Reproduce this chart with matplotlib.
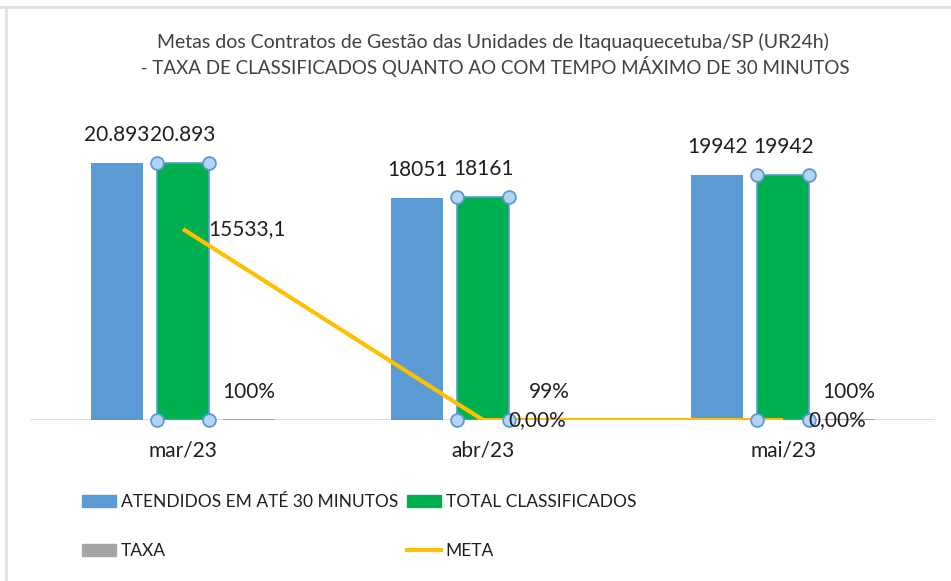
"""Metas dos Contratos de Gestão - Itaquaquecetuba/SP."""

import matplotlib

matplotlib.use("Agg")

import matplotlib.pyplot as plt
import numpy as np
from matplotlib.lines import Line2D
from matplotlib.patches import Patch

plt.rcParams["font.family"] = ["Lato", "DejaVu Sans"]

months = ["mar/23", "abr/23", "mai/23"]
atendidos = [20893, 18051, 19942]
total_classificados = [20893, 18161, 19942]
taxa = [1.00, 0.99, 1.00]
meta = [15533.1, 0.0, 0.0]

atendidos_labels = ["20.893", "18051", "19942"]
total_labels = ["20.893", "18161", "19942"]
taxa_labels = ["100%", "99%", "100%"]
meta_labels = ["15533,1", "0,00%", "0,00%"]

BLUE = "#5b9bd5"
GREEN = "#00b050"
GRAY = "#a5a5a5"
YELLOW = "#ffc000"
TEXT = "#1f1f1f"


def main() -> None:
    fig = plt.figure(figsize=(9.51, 5.81), dpi=100)
    ax = fig.add_axes([0.0315, 0.277, 0.952, 0.499])

    x = np.arange(len(months))
    width = 0.173
    step = 0.22

    b1 = ax.bar(x - step, atendidos, width, color=BLUE, zorder=2)
    b2 = ax.bar(x, total_classificados, width, color=GREEN, edgecolor=BLUE, linewidth=1.2, zorder=2)
    b3 = ax.bar(x + step, taxa, width, color=GRAY, edgecolor=GRAY, linewidth=1.5, zorder=2)
    ax.plot(x, meta, color=YELLOW, linewidth=3, zorder=3, solid_capstyle="butt")

    # selection handles on the green series
    for rect in b2:
        x0, x1 = rect.get_x(), rect.get_x() + rect.get_width()
        h = rect.get_height()
        ax.scatter([x0, x1, x0, x1], [0, 0, h, h], s=85, color="#b4d4f5",
                   edgecolor=BLUE, linewidth=1.3, zorder=5, clip_on=False)

    for rects, labels in ((b1, atendidos_labels), (b2, total_labels), (b3, taxa_labels)):
        for rect, lab in zip(rects, labels):
            ax.annotate(lab, (rect.get_x() + rect.get_width() / 2, rect.get_height()),
                        xytext=(0, 20), textcoords="offset points", ha="center",
                        va="center", fontsize=15, color=TEXT)
    for xi, val, lab in zip(x, meta, meta_labels):
        ax.annotate(lab, (xi, val), xytext=(18, 0), textcoords="offset points",
                    ha="left", va="center", fontsize=15, color=TEXT, zorder=6)

    ax.set_xlim(-0.51, 2.507)
    ax.set_ylim(0, 23576)
    ax.axhline(0, color="#d9d9d9", linewidth=1.2, zorder=1)
    for side in ("top", "right", "left", "bottom"):
        ax.spines[side].set_visible(False)
    ax.set_yticks([])
    ax.set_xticks(x)
    ax.set_xticklabels(months, fontsize=15, color=TEXT)
    ax.tick_params(axis="x", length=0, pad=15)

    fig.text(0.518, 0.928, "Metas dos Contratos de Gestão das Unidades de Itaquaquecetuba/SP (UR24h)",
             ha="center", va="center", fontsize=14, color="#404040")
    fig.text(0.518, 0.886, " - TAXA DE CLASSIFICADOS QUANTO AO COM TEMPO MÁXIMO DE 30 MINUTOS",
             ha="center", va="center", fontsize=13.5, color="#404040")

    handles = [
        Patch(color=BLUE, label="ATENDIDOS EM ATÉ 30 MINUTOS"),
        Patch(color=GRAY, label="TAXA"),
        Patch(color=GREEN, label="TOTAL CLASSIFICADOS"),
        Line2D([], [], color=YELLOW, linewidth=3, label="META"),
    ]
    fig.legend(handles=handles, loc="upper left", bbox_to_anchor=(0.086, 0.15),
               ncol=2, frameon=False, fontsize=12.5,
               handlelength=1.95, handleheight=0.7, handletextpad=0.3,
               columnspacing=0.5, labelspacing=1.9,
               borderaxespad=0, borderpad=0, labelcolor=TEXT)

    # faint chart border (top and left)
    fig.add_artist(Line2D([0, 1], [0.988, 0.988], color="#e0e0e0", linewidth=2, transform=fig.transFigure))
    fig.add_artist(Line2D([0.006, 0.006], [0, 0.988], color="#e0e0e0", linewidth=2, transform=fig.transFigure))

    fig.savefig("out.png", dpi=100)
    plt.close(fig)


if __name__ == "__main__":
    main()
